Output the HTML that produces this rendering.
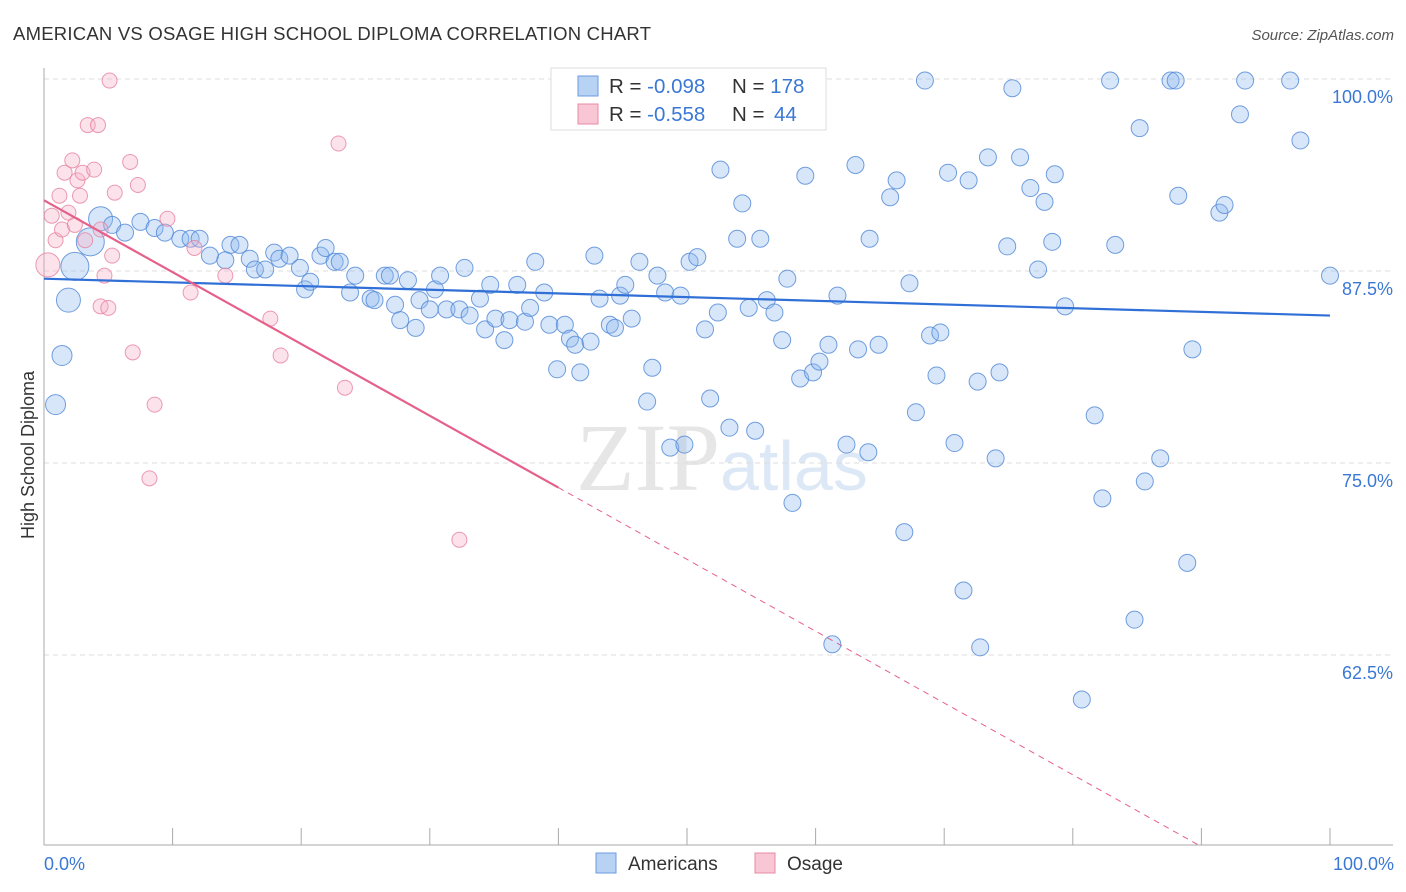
<!DOCTYPE html>
<html><head><meta charset="utf-8"><style>
body{margin:0;background:#fff;font-family:"Liberation Sans",sans-serif;}
svg{display:block}
</style></head><body>
<svg id="chart" width="1406" height="892">
<text x="13" y="40" font-size="18.5" fill="#333" textLength="638">AMERICAN VS OSAGE HIGH SCHOOL DIPLOMA CORRELATION CHART</text>
<text x="1394" y="40" font-size="15" fill="#555" font-style="italic" text-anchor="end">Source: ZipAtlas.com</text>
<text x="720" y="490" font-size="96" fill="#e6e6e6" text-anchor="end" font-family="Liberation Serif">ZIP</text>
<text x="720" y="490" font-size="70" fill="#dde8f6">atlas</text>
<g id="grid"></g><g id="axes"></g><g id="pts"></g><g id="trend"></g>
<text transform="translate(34,455) rotate(-90)" font-size="18" fill="#333" text-anchor="middle">High School Diploma</text>
<text x="44" y="870" font-size="18" fill="#3a78d4">0.0%</text>
<text x="1394" y="870" font-size="18" fill="#3a78d4" text-anchor="end">100.0%</text>
<g>
<rect x="551" y="68" width="275" height="62" fill="#fff" stroke="#ddd"/>
<rect x="578" y="76" width="20" height="20" fill="#b8d2f3" stroke="#6b9be0"/>
<rect x="578" y="104" width="20" height="20" fill="#f8c6d4" stroke="#e88aa5"/>
<text x="609" y="93" font-size="20.5" fill="#333">R = <tspan fill="#3a78d4">-0.098</tspan><tspan x="732">N = </tspan><tspan fill="#3a78d4">178</tspan></text>
<text x="609" y="121" font-size="20.5" fill="#333">R = <tspan fill="#3a78d4">-0.558</tspan><tspan x="732">N = </tspan><tspan fill="#3a78d4" x="774">44</tspan></text>
</g>
<g>
<rect x="596" y="853" width="20" height="20" fill="#b8d2f3" stroke="#6b9be0"/>
<text x="628" y="870" font-size="19" fill="#333">Americans</text>
<rect x="755" y="853" width="20" height="20" fill="#f8c6d4" stroke="#e88aa5"/>
<text x="787" y="870" font-size="19" fill="#333">Osage</text>
</g>
</svg>
<script>
const yTicks=[100,87.5,75,62.5];
const yTickLabels=["100.0%","87.5%","75.0%","62.5%"];
const xTicks=[0,10,20,30,40,50,60,70,80,90,100];
const blueX=[0.9,1.4,1.9,2.4,3.6,4.4,5.3,6.3,7.5,8.6,9.4,10.6,11.4,12.1,12.9,14.1,14.5,15.2,16.0,16.4,17.2,17.9,18.3,19.1,19.9,20.3,20.7,21.5,21.9,22.6,23.0,23.8,24.2,25.4,25.7,26.5,26.9,27.3,27.7,28.3,28.9,29.2,30.0,30.4,30.8,31.3,32.3,32.7,33.1,33.9,34.3,34.7,35.1,35.8,36.2,36.8,37.4,37.8,38.2,38.9,39.3,39.9,40.5,40.9,41.3,41.7,42.5,42.8,43.2,44.0,44.4,44.8,45.2,45.7,46.3,46.9,47.3,47.7,48.3,48.7,49.5,49.8,50.2,50.8,51.4,51.8,52.4,52.6,53.3,53.9,54.3,54.8,55.3,55.7,56.2,56.8,57.4,57.8,58.2,58.8,59.2,59.8,60.3,61.0,61.3,61.7,62.4,63.1,63.3,64.1,64.2,64.9,65.8,66.3,66.9,67.3,67.8,68.5,68.9,69.4,69.7,70.3,70.8,71.5,71.9,72.6,72.8,73.4,74.0,74.3,74.9,75.3,75.9,76.7,77.3,77.8,78.4,78.6,79.4,80.7,81.7,82.3,82.9,83.3,84.8,85.2,85.6,86.8,87.6,88.0,88.2,88.9,89.3,91.4,91.8,93.0,93.4,96.9,97.7,100];
const blueY=[78.8,82.0,85.6,87.8,89.4,90.9,90.5,90.0,90.7,90.3,90.0,89.6,89.6,89.6,88.5,88.2,89.2,89.2,88.3,87.6,87.6,88.7,88.3,88.5,87.7,86.3,86.8,88.5,89.0,88.1,88.1,86.1,87.2,85.7,85.6,87.2,87.2,85.3,84.3,86.9,83.8,85.6,85.0,86.3,87.2,85.0,85.0,87.7,84.6,85.7,83.7,86.6,84.4,83.0,84.3,86.6,84.2,85.1,88.1,86.1,84.0,81.1,84.0,83.1,82.7,80.9,82.9,88.5,85.7,84.0,83.8,85.9,86.6,84.4,88.1,79.0,81.2,87.2,86.1,76.0,85.9,76.2,88.1,88.4,83.7,79.2,84.8,94.1,77.3,89.6,91.9,85.1,77.1,89.6,85.6,84.8,83.0,87.0,72.4,80.5,93.7,80.9,81.6,82.7,63.2,85.9,76.2,94.4,82.4,75.7,89.6,82.7,92.3,93.4,70.5,86.7,78.3,99.9,83.3,80.7,83.5,93.9,76.3,66.7,93.4,80.3,63.0,94.9,75.3,80.9,89.1,99.4,94.9,92.9,87.6,92.0,89.4,93.8,85.2,59.6,78.1,72.7,99.9,89.2,64.8,96.8,73.8,75.3,99.9,99.9,92.4,68.5,82.4,91.3,91.8,97.7,99.9,99.9,96.0,87.2];
const blueR=[10,10,12,14,14,12];
const pinkX=[0.3,0.6,0.9,1.2,1.4,1.6,1.9,2.2,2.4,2.6,2.8,3.0,3.2,3.4,3.9,4.2,4.4,4.7,4.4,5.0,5.1,5.3,5.5,6.7,6.9,7.3,8.6,8.2,9.6,11.4,11.7,14.1,17.6,18.4,22.9,23.4,32.3];
const pinkY=[87.9,91.1,89.5,92.4,90.2,93.9,91.3,94.7,90.5,93.4,92.4,93.9,89.5,97.0,94.1,97.0,90.2,87.2,85.2,85.1,99.9,88.5,92.6,94.6,82.2,93.1,78.8,74.0,90.9,86.1,89.0,87.2,84.4,82.0,95.8,79.9,70.0];
const blueTrend=[87.0,84.6];
const pinkTrend=[92.1,-0.4675];
const X=v=>44+v*12.86, Y=v=>79+(100-v)*15.36;
const NS="http://www.w3.org/2000/svg";
function mk(t,a,p){const e=document.createElementNS(NS,t);for(const k in a)e.setAttribute(k,a[k]);p.appendChild(e);return e;}
const g=document.getElementById('grid'),ax=document.getElementById('axes'),pts=document.getElementById('pts'),tr=document.getElementById('trend');
yTicks.forEach((t,i)=>{
 const l=mk('line',{x1:44,x2:1393,y1:Y(t),y2:Y(t),stroke:'#ddd','stroke-dasharray':'5,4'},g);
 
 
 const tx=mk('text',{x:1393,y:Y(t)+24,'font-size':18,fill:'#3a78d4','text-anchor':'end'},g);
 tx.textContent=yTickLabels[i];
 
 
});
const la=mk('line',{x1:44,x2:44,y1:68,y2:845,stroke:'#aaa'},ax);


const ba=mk('line',{x1:44,x2:1393,y1:845,y2:845,stroke:'#aaa'},ax);


xTicks.forEach(t=>{
 const l=mk('line',{x1:X(t),x2:X(t),y1:828,y2:845,stroke:'#aaa'},ax);
 
 
});
blueX.forEach((x,i)=>{
 const c=mk('circle',{cx:X(x),cy:Y(blueY[i]),r:blueR[i]||8.5,fill:'rgba(140,182,238,0.35)',stroke:'rgba(80,135,215,0.8)','stroke-width':1},pts);
 
 
});
pinkX.forEach((x,i)=>{
 const c=mk('circle',{cx:X(x),cy:Y(pinkY[i]),r:i==0?12:7.5,fill:'rgba(245,175,198,0.35)',stroke:'rgba(230,130,160,0.8)','stroke-width':1},pts);
 
 
});
const bl=mk('line',{x1:X(0),y1:Y(blueTrend[0]),x2:X(100),y2:Y(blueTrend[1]),stroke:'#2f6fd6','stroke-width':2.2},tr);


const pf=x=>pinkTrend[0]+pinkTrend[1]*x;
const pl=mk('line',{x1:X(0),y1:Y(pf(0)),x2:X(40),y2:Y(pf(40)),stroke:'#e5608a','stroke-width':2.2},tr);


const pd=mk('line',{x1:X(40),y1:Y(pf(40)),x2:X(90),y2:Y(pf(90)),stroke:'#e5608a','stroke-width':1,'stroke-dasharray':'6,5'},tr);


</script>
</body></html>
